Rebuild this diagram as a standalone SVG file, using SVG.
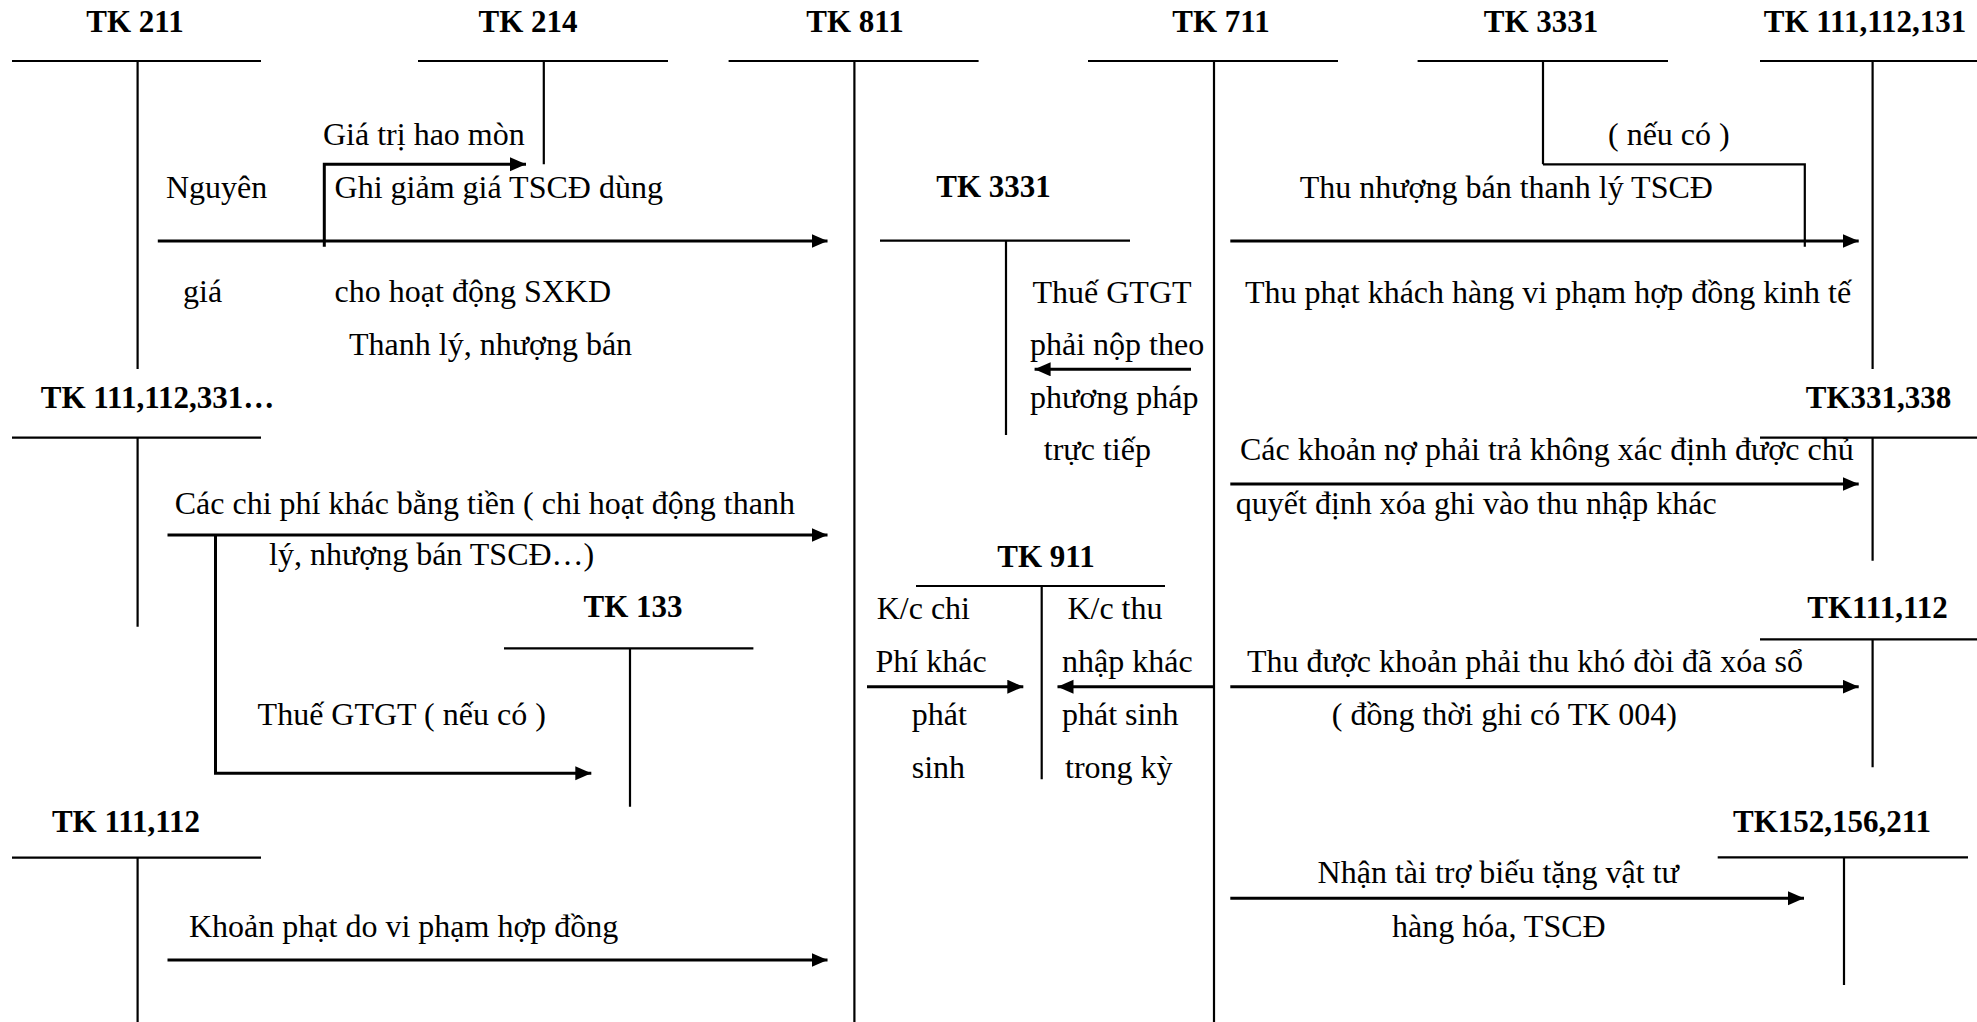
<svg xmlns="http://www.w3.org/2000/svg" width="1977" height="1022" viewBox="0 0 1977 1022">
  <style>
    text { font-family: "Liberation Serif", "Times New Roman", serif; fill: #000; }
    .h { font-size: 31px; font-weight: bold; text-anchor: middle; }
    .t { font-size: 32px; }
    .ln { stroke: #000; stroke-width: 2.2; fill: none; }
    .ar { stroke: #000; stroke-width: 3; fill: none; marker-end: url(#head); }
    .br { stroke: #000; stroke-width: 2.2; fill: none; }
  </style>
  <defs>
    <marker id="head" markerUnits="userSpaceOnUse" markerWidth="17" markerHeight="15" refX="16" refY="7" orient="auto">
      <path d="M0,0 L16,7 L0,14 z" fill="#000"/>
    </marker>
  </defs>
  <rect width="1977" height="1022" fill="#fff"/>

  <!-- T-accounts: heading, horizontal bar, vertical stem -->
  <g id="tk211">
    <text class="h" x="135" y="32">TK 211</text>
    <path class="ln" d="M12,61 H261 M137.6,61 V369"/>
  </g>
  <g id="tk214">
    <text class="h" x="528" y="32">TK 214</text>
    <path class="ln" d="M418,61 H668 M543.8,61 V164.3"/>
  </g>
  <g id="tk811">
    <text class="h" x="855" y="32">TK 811</text>
    <path class="ln" d="M728.6,61 H978.6 M854.4,61 V1022"/>
  </g>
  <g id="tk711">
    <text class="h" x="1221" y="32">TK 711</text>
    <path class="ln" d="M1088,61 H1338 M1214,61 V1022"/>
  </g>
  <g id="tk3331-top">
    <text class="h" x="1541" y="32">TK 3331</text>
    <path class="ln" d="M1417.6,61 H1668 M1543,61 V164.3"/>
  </g>
  <g id="tk111-112-131">
    <text class="h" x="1865" y="32">TK 111,112,131</text>
    <path class="ln" d="M1760,61 H1977 M1872.6,61 V369"/>
  </g>
  <g id="tk3331-mid">
    <text class="h" x="993.5" y="197.3">TK 3331</text>
    <path class="ln" d="M880,240.7 H1130 M1006,240.7 V435"/>
  </g>
  <g id="tk111-112-331">
    <text class="h" x="157.5" y="408.3">TK 111,112,331…</text>
    <path class="ln" d="M12,437.7 H261 M137.6,437.7 V626.7"/>
  </g>
  <g id="tk331-338">
    <text class="h" x="1878.5" y="408.3">TK331,338</text>
    <path class="ln" d="M1760,437.7 H1977 M1872.6,437.7 V560.7"/>
  </g>
  <g id="tk911">
    <text class="h" x="1046" y="566.7">TK 911</text>
    <path class="ln" d="M916,586 H1165 M1041.7,586 V779.3"/>
  </g>
  <g id="tk133">
    <text class="h" x="633" y="616.7">TK 133</text>
    <path class="ln" d="M504,648.3 H753.4 M630,648.3 V806.7"/>
  </g>
  <g id="tk111-112-right">
    <text class="h" x="1877.5" y="618.3">TK111,112</text>
    <path class="ln" d="M1760,639.3 H1977 M1872.6,639.3 V767.3"/>
  </g>
  <g id="tk111-112-left">
    <text class="h" x="126" y="831.7">TK 111,112</text>
    <path class="ln" d="M12,857.7 H261 M137.6,857.7 V1022"/>
  </g>
  <g id="tk152-156-211">
    <text class="h" x="1832" y="831.7">TK152,156,211</text>
    <path class="ln" d="M1717.7,857.3 H1968 M1844,857.3 V985"/>
  </g>

  <!-- Posting arrows between accounts -->
  <g id="connectors">
    <path class="ar" d="M157.8,241 H827.5"/>
    <path class="ar" d="M324.3,246.7 V164.3 H526"/>
    <path class="ar" d="M167.5,535 H827.5"/>
    <path class="ar" d="M215.5,535 V773.3 H591.3"/>
    <path class="ar" d="M167.5,960 H827.5"/>
    <path class="ar" d="M1191,369.3 H1034.6"/>
    <path class="ar" d="M1230.3,241 H1858.7"/>
    <path class="br" d="M1543,164.3 H1804.8 V246.7"/>
    <path class="ar" d="M1230.3,484 H1858.7"/>
    <path class="ar" d="M867,686.7 H1023.3"/>
    <path class="ar" d="M1214,686.7 H1057.5"/>
    <path class="ar" d="M1230.3,686.7 H1858.7"/>
    <path class="ar" d="M1230.3,898.3 H1804"/>
  </g>

  <!-- Entry descriptions -->
  <g id="labels" class="t">
    <text class="t" x="323" y="145">Giá trị hao mòn</text>
    <text class="t" x="1608" y="145">( nếu có )</text>
    <text class="t" x="166" y="198.3">Nguyên</text>
    <text class="t" x="334.6" y="198.3">Ghi giảm giá TSCĐ dùng</text>
    <text class="t" x="1299.7" y="198.3">Thu nhượng bán thanh lý TSCĐ</text>
    <text class="t" x="183" y="301.7">giá</text>
    <text class="t" x="334.6" y="301.7">cho hoạt động SXKD</text>
    <text class="t" x="1032.5" y="303.3">Thuế GTGT</text>
    <text class="t" x="1245" y="303.3">Thu phạt khách hàng vi phạm hợp đồng kinh tế</text>
    <text class="t" x="349" y="355">Thanh lý, nhượng bán</text>
    <text class="t" x="1030" y="355">phải nộp theo</text>
    <text class="t" x="1030" y="408.3">phương pháp</text>
    <text class="t" x="1043.8" y="460">trực tiếp</text>
    <text class="t" x="1240" y="460">Các khoản nợ phải trả không xác định được chủ</text>
    <text class="t" x="174.7" y="514">Các chi phí khác bằng tiền ( chi hoạt động thanh</text>
    <text class="t" x="1235.8" y="514">quyết định xóa ghi vào thu nhập khác</text>
    <text class="t" x="269" y="565">lý, nhượng bán TSCĐ…)</text>
    <text class="t" x="876.7" y="619.3">K/c chi</text>
    <text class="t" x="1067.4" y="619.3">K/c thu</text>
    <text class="t" x="875.5" y="671.7">Phí khác</text>
    <text class="t" x="1062" y="671.7">nhập khác</text>
    <text class="t" x="1247" y="671.7">Thu được khoản phải thu khó đòi đã xóa sổ</text>
    <text class="t" x="257.6" y="725">Thuế GTGT ( nếu có )</text>
    <text class="t" x="911.7" y="725">phát</text>
    <text class="t" x="1062" y="725">phát sinh</text>
    <text class="t" x="1331.8" y="725">( đồng thời ghi có TK 004)</text>
    <text class="t" x="911.7" y="778.3">sinh</text>
    <text class="t" x="1065" y="778.3">trong kỳ</text>
    <text class="t" x="1317.6" y="883.3">Nhận tài trợ biếu tặng vật tư</text>
    <text class="t" x="189" y="936.7">Khoản phạt do vi phạm hợp đồng</text>
    <text class="t" x="1392" y="936.7">hàng hóa, TSCĐ</text>
    <!-- next line runs off the bottom edge; only accent tops remain -->
    <text class="t" x="550" y="1046">ồ</text>
    <text class="t" x="724" y="1046">ề</text>
  </g>
</svg>
